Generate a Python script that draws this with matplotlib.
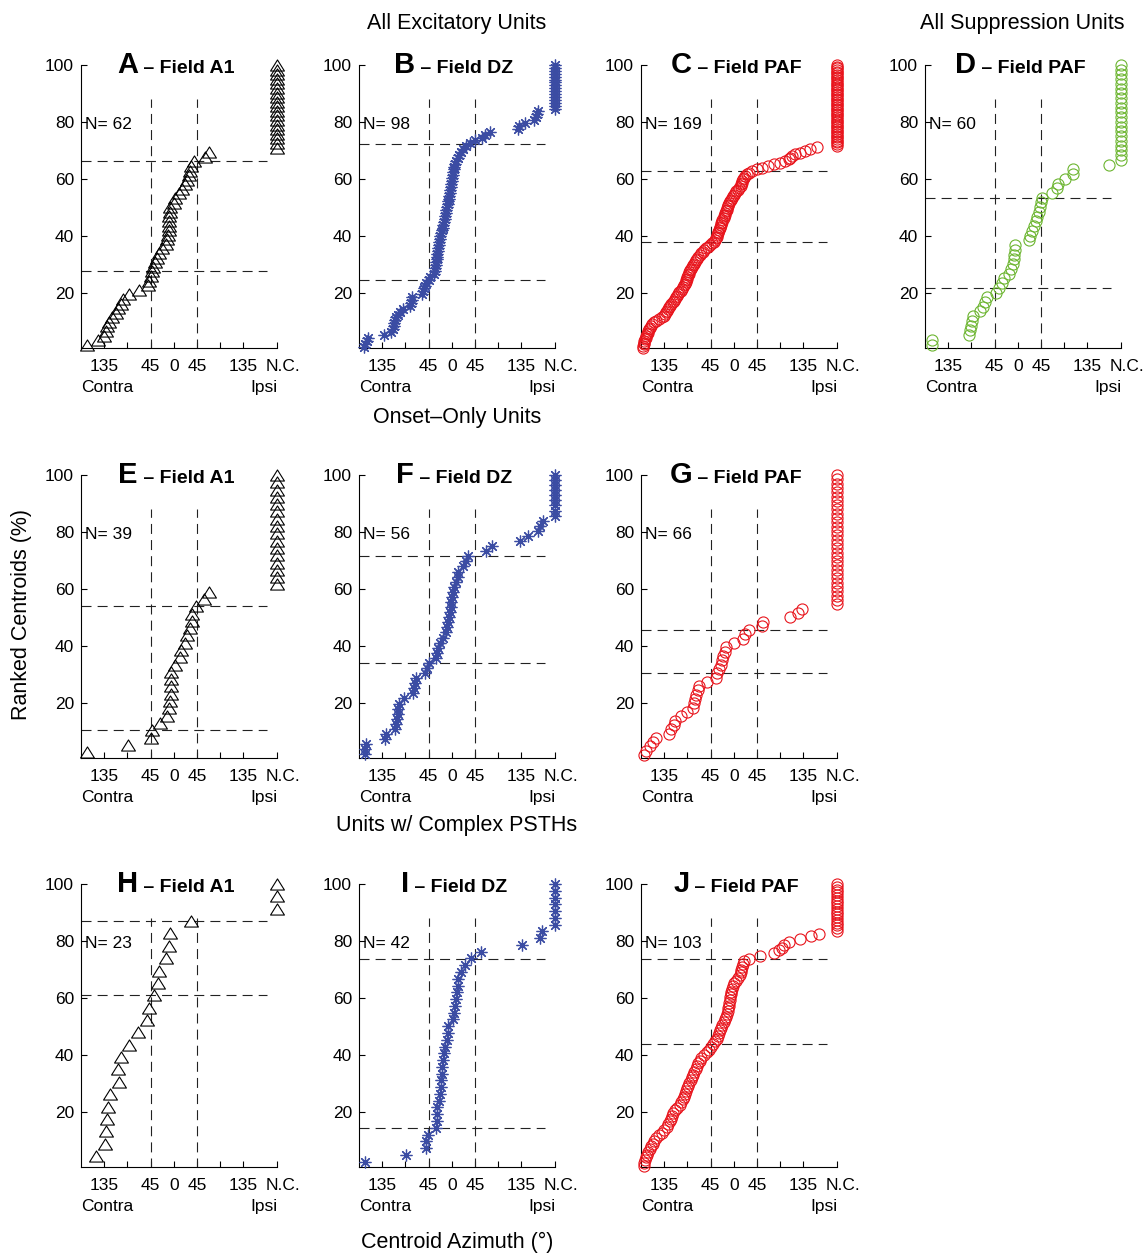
import matplotlib
matplotlib.use('Agg')
import matplotlib.pyplot as plt
from matplotlib.path import Path
from matplotlib.transforms import ScaledTranslation
import numpy as np

plt.rcParams['font.family'] = ['Liberation Sans', 'DejaVu Sans']

# ---------------- data (azimuths in degrees; negative = contra) -------------
NC_POS = 200

a1_exc_az = [-169, -148, -135, -132, -129, -125, -119, -113, -108, -103, -98, -87, -68,
             -51, -48, -45, -42, -40, -37, -32, -29, -22, -16, -13, -11, -10, -10, -9,
             -9, -8, -8, 0, 3, 10, 16, 21, 26, 29, 31, 33, 40, 61, 69]
a1_exc_nc = 19
a1_exc_h = [27.4, 66.1]

dz_exc_az = [-170, -168, -165, -163, -132, -118, -115, -113, -112, -110,
             -108, -105, -100, -95, -82, -80, -78, -77, -57, -55,
             -54, -52, -50, -45, -42, -35, -33, -32, -31, -30,
             -29, -28, -28, -27, -26, -25, -24, -23, -22, -21,
             -20, -18, -17, -15, -14, -13, -12, -11, -9, -8,
             -7, -6, -5, -4, -3, -2, -1, 0, 1, 2,
             3, 4, 5, 7, 9, 11, 14, 18, 22, 27,
             35, 45, 58, 64, 74, 128, 131, 142, 160, 163,
             165, 168]
dz_exc_nc = 16
dz_exc_h = [24.4, 72.4]

paf_exc_az = [-177, -176, -175, -175, -174, -173, -171, -170, -169, -167,
              -166, -164, -163, -161, -158, -155, -151, -146, -140, -136,
              -133, -131, -129, -127, -125, -123, -121, -118, -116, -114,
              -112, -110, -108, -106, -103, -101, -99, -97, -95, -93,
              -92, -91, -90, -89, -87, -86, -85, -84, -82, -80,
              -78, -76, -73, -71, -69, -66, -64, -60, -57, -54,
              -51, -47, -43, -39, -37, -35, -33, -32, -31, -30,
              -29, -27, -26, -25, -24, -23, -22, -20, -19, -18,
              -17, -16, -14, -13, -12, -11, -9, -7, -6, -4,
              -2, 0, 3, 5, 8, 10, 13, 14, 15, 16,
              18, 20, 22, 25, 30, 36, 45, 55, 66, 77,
              90, 100, 106, 109, 113, 118, 129, 138, 148, 162]
paf_exc_nc = 49
paf_exc_h = [37.9, 62.6]

paf_sup_az = [-167, -166, -94, -92, -91, -89, -87, -73, -68, -64,
              -60, -43, -36, -30, -26, -18, -14, -10, -8, -7,
              -6, -5, 21, 24, 27, 32, 35, 38, 41, 43,
              45, 47, 66, 75, 78, 91, 106, 107, 177]
paf_sup_nc = 21
paf_sup_h = [21.6, 53.4]

a1_on_az = [-169, -89, -45, -42, -26, -13, -10, -8, -6, -6, -5, -5, 3, 12, 13, 22,
            26, 31, 35, 35, 42, 58, 69]
a1_on_nc = 16
a1_on_h = [10.3, 53.8]

dz_on_az = [-169, -169, -166, -130, -127, -111, -108, -106, -105, -104,
            -102, -92, -76, -74, -71, -69, -52, -48, -45, -31,
            -28, -26, -23, -18, -12, -10, -8, -5, -3, -2,
            -1, 1, 3, 5, 8, 11, 12, 21, 27, 32,
            67, 77, 132, 148, 168, 170, 176]
dz_on_nc = 9
dz_on_h = [33.9, 71.4]

paf_on_az = [-174, -170, -162, -157, -151, -125, -122, -116, -114, -103,
             -90, -80, -77, -76, -73, -69, -67, -53, -35, -32,
             -29, -24, -22, -21, -18, -16, 0, 18, 21, 29,
             55, 57, 108, 124, 133]
paf_on_nc = 31
paf_on_h = [30.3, 45.5]

a1_cx_az = [-150, -134, -132, -129, -128, -123, -107, -109, -102, -86,
            -69, -53, -49, -38, -31, -28, -15, -9, -8, 33]
a1_cx_nc = 3
a1_cx_h = [60.9, 87.0]

dz_cx_az = [-169, -89, -51, -51, -46, -30, -28, -28, -28, -24,
            -22, -21, -21, -20, -19, -18, -16, -13, -10, -8,
            -8, 3, 5, 6, 9, 10, 11, 12, 17, 26,
            38, 56, 136, 170, 174]
dz_cx_nc = 7
dz_cx_h = [14.3, 73.8]

paf_cx_az = [-175, -174, -173, -171, -168, -166, -163, -160, -157, -154,
             -150, -145, -140, -135, -130, -127, -124, -121, -119, -117,
             -115, -110, -105, -102, -99, -96, -94, -92, -90, -88,
             -86, -84, -81, -79, -77, -74, -72, -69, -66, -63,
             -57, -52, -48, -44, -40, -37, -33, -31, -28, -26,
             -24, -22, -20, -18, -16, -14, -12, -11, -10, -9,
             -8, -7, -6, -5, -3, -2, 1, 5, 8, 11,
             13, 14, 16, 18, 19, 30, 50, 77, 88, 93,
             97, 107, 129, 150, 165]
paf_cx_nc = 18
paf_cx_h = [43.7, 73.8]

xtick_vals = [-135, -90, -45, 0, 45, 90, 135, NC_POS]
xtick_labels = ['135', '', '45', '0', '45', '', '135', 'N.C.']
ytick_vals = [20, 40, 60, 80, 100]

# ---------------- styles ----------------
tri = Path([(0, 0.8), (-1, -0.8), (1, -0.8), (0, 0.8)],
           [Path.MOVETO, Path.LINETO, Path.LINETO, Path.CLOSEPOLY])
STY = {
    'A1': dict(marker=tri, ms=10, mec='black', mfc='none', mew=0.8),
    'DZ': dict(marker=(8, 2, 0), ms=8.5, mec='#3b4ca3', mfc='none', mew=0.9),
    'PAF': dict(marker='o', ms=8, mec='#e8141c', mfc='none', mew=0.8),
    'SUP': dict(marker='o', ms=8, mec='#6cb530', mfc='none', mew=0.8),
}

W, H = 1146, 1253
fig = plt.figure(figsize=(W / 100, H / 100), dpi=100)

col_left = [81, 359, 641, 925]
row_top = [65, 475, 884]
ax_w, ax_h = 196, 283

panels = [
    (0, 0, 'A', 'Field A1', 'A1', a1_exc_az, a1_exc_nc, a1_exc_h),
    (0, 1, 'B', 'Field DZ', 'DZ', dz_exc_az, dz_exc_nc, dz_exc_h),
    (0, 2, 'C', 'Field PAF', 'PAF', paf_exc_az, paf_exc_nc, paf_exc_h),
    (0, 3, 'D', 'Field PAF', 'SUP', paf_sup_az, paf_sup_nc, paf_sup_h),
    (1, 0, 'E', 'Field A1', 'A1', a1_on_az, a1_on_nc, a1_on_h),
    (1, 1, 'F', 'Field DZ', 'DZ', dz_on_az, dz_on_nc, dz_on_h),
    (1, 2, 'G', 'Field PAF', 'PAF', paf_on_az, paf_on_nc, paf_on_h),
    (2, 0, 'H', 'Field A1', 'A1', a1_cx_az, a1_cx_nc, a1_cx_h),
    (2, 1, 'I', 'Field DZ', 'DZ', dz_cx_az, dz_cx_nc, dz_cx_h),
    (2, 2, 'J', 'Field PAF', 'PAF', paf_cx_az, paf_cx_nc, paf_cx_h),
]

renderer = fig.canvas.get_renderer()
dash = (0, (9, 5.5))

for row, col, letter, field, sty, az, nnc, hl in panels:
    left = col_left[col] / W
    bottom = 1 - (row_top[row] + ax_h) / H
    ax = fig.add_axes([left, bottom, ax_w / W, ax_h / H])
    x = list(az) + [NC_POS] * nnc
    n = len(x)
    y = np.arange(1, n + 1) / n * 100
    ax.plot(x, y, ls='none', clip_on=False, zorder=3, **STY[sty])
    for v in (-45, 45):
        ax.plot([v, v], [0, 88], color='#222222', lw=0.8, ls=dash, zorder=2)
    for h in hl:
        ax.plot([-180, 180], [h, h], color='#222222', lw=0.8, ls=dash, zorder=2)
    ax.set_xlim(-180, NC_POS)
    ax.set_ylim(0.5, 100)
    ax.set_xticks(xtick_vals)
    ax.set_xticklabels(xtick_labels)
    ax.set_yticks(ytick_vals)
    ax.tick_params(direction='in', length=4, width=0.8, labelsize=12.5, pad=5)
    ax.tick_params(axis='x', pad=8)
    nc_lbl = ax.get_xticklabels()[-1]
    nc_lbl.set_transform(nc_lbl.get_transform() +
                         ScaledTranslation(4 / 72, 0, fig.dpi_scale_trans))
    for s in ('top', 'right'):
        ax.spines[s].set_visible(False)
    for s in ('left', 'bottom'):
        ax.spines[s].set_linewidth(0.8)
    ax.text(-173, 79, 'N= %d' % n, fontsize=12.5, ha='left', va='center')
    ax.text(0.0, -0.14, 'Contra', transform=ax.transAxes, fontsize=12.5,
            ha='left', va='center')
    ax.text(1.0, -0.14, 'Ipsi', transform=ax.transAxes, fontsize=12.5,
            ha='right', va='center')
    # title: big letter + smaller bold field name, centered
    t1 = ax.text(0.5, 0.971, letter, transform=ax.transAxes, fontsize=21,
                 fontweight='bold', ha='left', va='baseline')
    t2 = ax.text(0.5, 0.971, ' \u2013 ' + field, transform=ax.transAxes,
                 fontsize=14, fontweight='bold', ha='left', va='baseline')
    w1 = t1.get_window_extent(renderer).width
    w2 = t2.get_window_extent(renderer).width
    x1 = 0.5 - (w1 + w2) / 2 / ax_w - 3 / ax_w
    t1.set_x(x1)
    t2.set_x(x1 + w1 / ax_w)

fs = 15.5
fig.text(457 / W, 1 - 23 / H, 'All Excitatory Units', ha='center', va='center', fontsize=fs)
fig.text(1022 / W, 1 - 23 / H, 'All Suppression Units', ha='center', va='center', fontsize=fs)
fig.text(457 / W, 1 - 417 / H, 'Onset\u2013Only Units', ha='center', va='center', fontsize=fs)
fig.text(457 / W, 1 - 826 / H, 'Units w/ Complex PSTHs', ha='center', va='center', fontsize=fs)
fig.text(457 / W, 1 - 1242 / H, 'Centroid Azimuth (\u00b0)', ha='center', va='center', fontsize=fs)
fig.text(22 / W, 1 - 615 / H, 'Ranked Centroids (%)', ha='center', va='center',
         rotation=90, fontsize=fs)

fig.savefig('out.png', dpi=100)
